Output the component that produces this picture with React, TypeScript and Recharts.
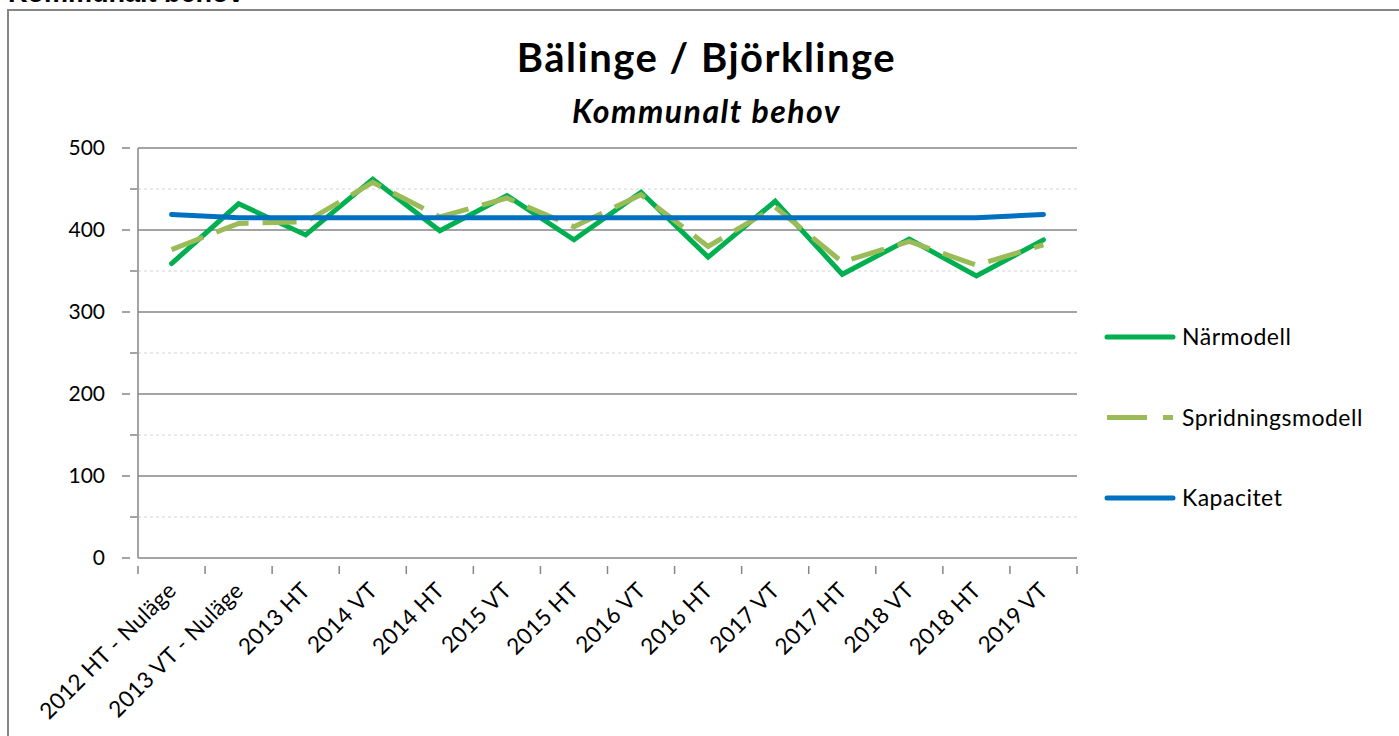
import { LineChart, Line, XAxis, YAxis, CartesianGrid, Legend } from 'recharts';

const categories = [
  '2012 HT - Nuläge',
  '2013 VT - Nuläge',
  '2013 HT',
  '2014 VT',
  '2014 HT',
  '2015 VT',
  '2015 HT',
  '2016 VT',
  '2016 HT',
  '2017 VT',
  '2017 HT',
  '2018 VT',
  '2018 HT',
  '2019 VT',
];
const narmodell = [359, 432, 394, 462, 399, 442, 388, 446, 367, 435, 346, 389, 344, 388];
const spridningsmodell = [376, 408, 410, 458, 416, 439, 404, 443, 380, 428, 361, 386, 357, 382];
const kapacitet = [419, 415, 415, 415, 415, 415, 415, 415, 415, 415, 415, 415, 415, 419];

const yTicks = [0, 50, 100, 150, 200, 250, 300, 350, 400, 450, 500];
const majorLines = [100, 200, 300, 400, 500];
const minorLines = [50, 150, 250, 350, 450];

const data = categories.map((label, i) => ({
  label,
  narmodell: narmodell[i],
  spridningsmodell: spridningsmodell[i],
  kapacitet: kapacitet[i],
}));

const FONT = 'Lato, "Open Sans", sans-serif';
const AXIS = '#868686';
const W = 1399;
const H = 736;
const PLOT_LEFT = 138;
const PLOT_RIGHT = 1077;
const BAND = (PLOT_RIGHT - PLOT_LEFT) / categories.length;

const YTick = (props: any) => {
  const { x, y, payload } = props;
  const v = payload.value;
  if (v % 100 !== 0) {
    return <line x1={x} x2={x + 7} y1={y} y2={y} stroke={AXIS} strokeWidth={1.5} />;
  }
  return (
    <g>
      <line x1={x - 8} x2={x} y1={y} y2={y} stroke={AXIS} strokeWidth={1.5} />
      <text x={x - 25} y={y} dy={7} textAnchor="end" fontFamily={FONT} fontSize={21} fill="#000">
        {v}
      </text>
    </g>
  );
};

const XTick = (props: any) => {
  const { x, y, payload, index } = props;
  const left = x - BAND / 2;
  const right = x + BAND / 2;
  const tx = x + 6;
  const ty = y + 26;
  return (
    <g>
      <line x1={left} x2={left} y1={y} y2={y + 8} stroke={AXIS} strokeWidth={1.5} />
      {index === categories.length - 1 && (
        <line x1={right} x2={right} y1={y} y2={y + 8} stroke={AXIS} strokeWidth={1.5} />
      )}
      <text
        x={tx}
        y={ty}
        textAnchor="end"
        fontFamily={FONT}
        fontSize={22.5}
        letterSpacing={0.3}
        fill="#000"
        transform={`rotate(-45, ${tx}, ${ty})`}
      >
        {payload.value}
      </text>
    </g>
  );
};

const legendItems = [
  { name: 'Närmodell', color: '#00B050', dash: undefined },
  { name: 'Spridningsmodell', color: '#9BBB59', dash: '40 16' },
  { name: 'Kapacitet', color: '#0070C0', dash: undefined },
];

const LegendContent = () => (
  <svg width={300} height={200}>
    {legendItems.map((item, i) => (
      <g key={item.name} transform={`translate(0, ${i * 80.5 + 20})`}>
        <line
          x1={9}
          x2={75}
          y1={0}
          y2={0}
          stroke={item.color}
          strokeWidth={5}
          strokeDasharray={item.dash}
          strokeLinecap={item.dash ? 'butt' : 'round'}
        />
        <text x={84} y={0} dy={8} fontFamily={FONT} fontSize={23} letterSpacing={0.5} fill="#000">
          {item.name}
        </text>
      </g>
    ))}
  </svg>
);

export default function App() {
  return (
    <div
      style={{
        position: 'absolute',
        left: 0,
        top: 0,
        width: W,
        height: H,
        overflow: 'hidden',
        background: '#fff',
      }}
    >
      <div
        style={{
          position: 'absolute',
          left: 8,
          top: -22,
          fontFamily: '"Liberation Sans", Arial, sans-serif',
          fontWeight: 'bold',
          fontSize: 27,
          whiteSpace: 'nowrap',
        }}
      >
        Kommunalt behov
      </div>
      <div
        style={{
          position: 'absolute',
          left: 7,
          top: 9,
          width: W,
          height: H,
          border: `2px solid ${AXIS}`,
          boxSizing: 'border-box',
        }}
      />
      <div
        style={{
          position: 'absolute',
          left: 0,
          width: 1413,
          top: 33,
          textAlign: 'center',
          fontFamily: FONT,
          fontWeight: 'bold',
          fontSize: 40,
          letterSpacing: 1.5,
          whiteSpace: 'nowrap',
        }}
      >
        Bälinge / Björklinge
      </div>
      <div
        style={{
          position: 'absolute',
          left: 0,
          width: 1413,
          top: 91,
          textAlign: 'center',
          fontFamily: FONT,
          fontWeight: 'bold',
          fontStyle: 'italic',
          fontSize: 32,
          letterSpacing: 1.5,
          whiteSpace: 'nowrap',
        }}
      >
        Kommunalt behov
      </div>
      <div style={{ position: 'absolute', left: 0, top: 0 }}>
        <LineChart
          width={W}
          height={H}
          data={data}
          margin={{ top: 148, right: W - PLOT_RIGHT, bottom: 0, left: 0 }}
        >
          <CartesianGrid
            vertical={false}
            horizontalValues={minorLines}
            stroke="#d4d4d4"
            strokeDasharray="3 3"
            strokeWidth={1}
          />
          <CartesianGrid
            vertical={false}
            horizontalValues={majorLines}
            stroke={AXIS}
            strokeWidth={1.5}
          />
          <XAxis
            dataKey="label"
            scale="band"
            interval={0}
            height={178}
            tickLine={false}
            axisLine={{ stroke: AXIS, strokeWidth: 1.5 }}
            tick={<XTick />}
          />
          <YAxis
            width={PLOT_LEFT}
            domain={[0, 500]}
            ticks={yTicks}
            interval={0}
            tickLine={false}
            axisLine={{ stroke: AXIS, strokeWidth: 1.5 }}
            tick={<YTick />}
          />
          <Legend
            layout="vertical"
            align="center"
            verticalAlign="middle"
            wrapperStyle={{ left: 1098, top: 317, width: 300 }}
            content={<LegendContent />}
          />
          <Line
            dataKey="narmodell"
            name="Närmodell"
            stroke="#00B050"
            strokeWidth={5}
            strokeLinecap="round"
            dot={false}
            activeDot={false}
            isAnimationActive={false}
          />
          <Line
            dataKey="spridningsmodell"
            name="Spridningsmodell"
            stroke="#9BBB59"
            strokeWidth={5}
            strokeDasharray="34 14"
            dot={false}
            activeDot={false}
            isAnimationActive={false}
          />
          <Line
            dataKey="kapacitet"
            name="Kapacitet"
            stroke="#0070C0"
            strokeWidth={5}
            strokeLinecap="round"
            dot={false}
            activeDot={false}
            isAnimationActive={false}
          />
        </LineChart>
      </div>
    </div>
  );
}
